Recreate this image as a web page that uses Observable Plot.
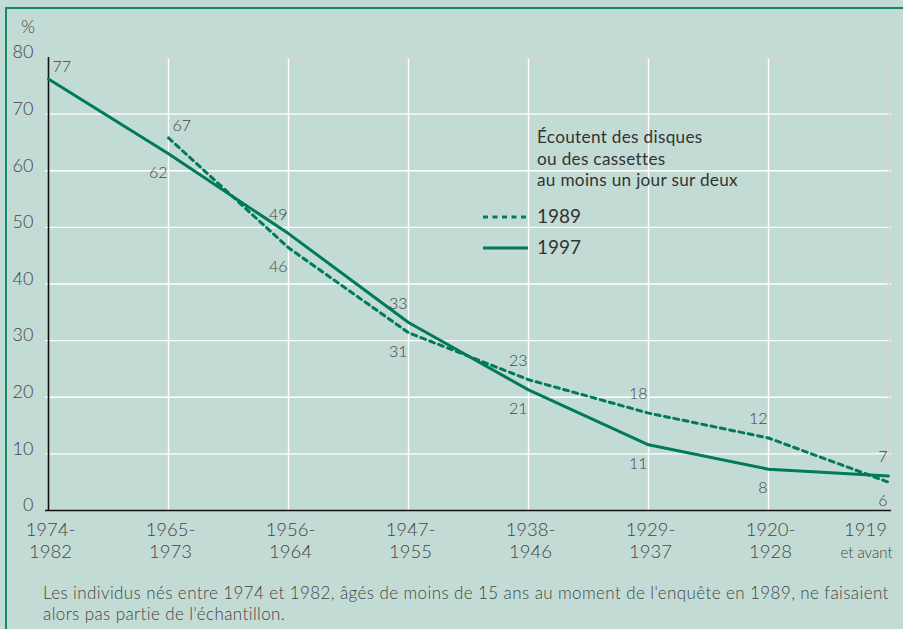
<!DOCTYPE html>
<html>
<head>
<meta charset="utf-8">
<script src="https://cdn.jsdelivr.net/npm/d3@7"></script>
<script src="https://cdn.jsdelivr.net/npm/@observablehq/plot@0.6"></script>
<style>
  html, body { margin: 0; padding: 0; background: #c2dcd5; }
  #frame { position: relative; width: 903px; height: 629px; overflow: hidden; background: #c2dcd5;
           font-family: "Lato", "Open Sans", sans-serif; font-weight: 300; }
  .bt { position: absolute; left: 5px; right: 0; top: 7px; height: 2px; background: #14896a; }
  .bl { position: absolute; left: 5px; top: 7px; bottom: 0; width: 2px; background: #14896a; }
  .abs { position: absolute; white-space: nowrap; }
  #chart svg { overflow: visible; }
</style>
</head>
<body>
<div id="frame">
  <div class="bt"></div>
  <div class="bl"></div>
  <div id="chart" class="abs" style="left:0;top:0"></div>
  <div class="abs" style="left:21px;top:15px;font-size:18px;color:#444">%</div>
  <div class="abs" style="left:537px;top:126px;font-size:17.2px;letter-spacing:0.3px;line-height:21.5px;color:#333;font-weight:400">Écoutent des disques<br>ou des cassettes<br>au moins un jour sur deux</div>
  <svg class="abs" style="left:480px;top:205px" width="50" height="50">
    <line x1="3" x2="48" y1="12" y2="12" stroke="#007a5b" stroke-width="3" stroke-dasharray="5,4.5"/>
    <line x1="3" x2="48" y1="43" y2="43" stroke="#007a5b" stroke-width="3"/>
  </svg>
  <div class="abs" style="left:537px;top:204px;font-size:19px;color:#333;font-weight:400">1989</div>
  <div class="abs" style="left:537px;top:235px;font-size:19px;color:#333;font-weight:400">1997</div>
  <div class="abs" style="left:43px;top:582px;font-size:17px;letter-spacing:0.4px;line-height:21px;color:#444">Les individus nés entre 1974 et 1982, âgés de moins de 15 ans au moment de l'enquête en 1989, ne faisaient<br>alors pas partie de l'échantillon.</div>
</div>
<script>
const categories = ["1974-1982", "1965-1973", "1956-1964", "1947-1955", "1938-1946", "1929-1937", "1920-1928", "1919 et avant"];
const tickLine1 = ["1974-", "1965-", "1956-", "1947-", "1938-", "1929-", "1920-", "1919"];
const tickLine2 = ["1982", "1973", "1964", "1955", "1946", "1937", "1928", "et avant"];
const values1997 = [76.2, 63.0, 48.9, 33.2, 21.3, 11.6, 7.3, 6.1];
const values1989 = [null, 65.8, 46.4, 31.4, 23.1, 17.2, 12.8, 5.0];
const labels1997 = ["77", "62", "49", "33", "21", "11", "8", "7"];
const labels1989 = [null, "67", "46", "31", "23", "18", "12", "6"];
const yTicks = [0, 10, 20, 30, 40, 50, 60, 70, 80];

const green = "#007a5b";
const rows1997 = categories.map((c, i) => ({cat: c, v: values1997[i], t: labels1997[i], other: values1989[i]})).filter(d => d.v != null);
const rows1989 = categories.map((c, i) => ({cat: c, v: values1989[i], t: labels1989[i], other: values1997[i]})).filter(d => d.v != null);

const labelRows = [];
[rows1997, rows1989].forEach(rows => rows.forEach((d, j) => {
  let pos;
  if (j === 0) pos = "first";
  else pos = (d.other == null || d.v >= d.other) ? "above" : "below";
  labelRows.push({...d, pos});
}));

const idx = d3.range(categories.length);
const lastI = categories.length - 1;
const txt = {fill: "#444", fontWeight: 300};

const chart = Plot.plot({
  width: 903,
  height: 570,
  marginLeft: 45,
  marginRight: 12,
  marginTop: 57,
  marginBottom: 60,
  style: {background: "transparent", fontFamily: "Lato, 'Open Sans', sans-serif"},
  x: {type: "point", domain: categories, padding: 0, axis: null},
  y: {domain: [0, 80], axis: null},
  marks: [
    Plot.ruleY(yTicks.filter(d => d > 0 && d < 80), {stroke: "#ffffff", strokeWidth: 1.3}),
    Plot.ruleX(categories.slice(1, lastI), {stroke: "#ffffff", strokeWidth: 1.3}),
    Plot.ruleY([80], {stroke: "#d4d4d4", strokeWidth: 2}),
    Plot.ruleX([categories[lastI]], {stroke: "#d4d4d4", strokeWidth: 2}),
    Plot.ruleX([categories[0]], {stroke: "#111", strokeWidth: 1.6}),
    Plot.ruleY([0], {stroke: "#111", strokeWidth: 1.6}),
    Plot.axisY(yTicks, {tickSize: 0, tickPadding: 12, dy: -5, fontSize: 18, label: null, ...txt}),
    Plot.text(idx.slice(0, lastI), {x: i => categories[i], text: i => tickLine1[i], frameAnchor: "bottom", dy: 25, dx: 2, fontSize: 18.5, ...txt}),
    Plot.text(idx.slice(0, lastI), {x: i => categories[i], text: i => tickLine2[i], frameAnchor: "bottom", dy: 47, dx: 2, fontSize: 18.5, ...txt}),
    Plot.text([lastI], {x: i => categories[i], text: i => tickLine1[i], frameAnchor: "bottom", dy: 25, dx: -23, fontSize: 18.5, ...txt}),
    Plot.text([lastI], {x: i => categories[i], text: i => tickLine2[i], frameAnchor: "bottom", dy: 47, dx: -22, fontSize: 15, ...txt}),
    Plot.line(rows1989, {x: "cat", y: "v", stroke: green, strokeWidth: 3, strokeDasharray: "5,4.5"}),
    Plot.line(rows1997, {x: "cat", y: "v", stroke: green, strokeWidth: 3}),
    Plot.text(labelRows.filter(d => d.pos === "first"), {x: "cat", y: "v", text: "t", textAnchor: "start", dx: 4, dy: -12, fontSize: 16, ...txt}),
    Plot.text(labelRows.filter(d => d.pos === "above"), {x: "cat", y: "v", text: "t", textAnchor: "end", dx: -1, dy: -19, fontSize: 16, ...txt}),
    Plot.text(labelRows.filter(d => d.pos === "below"), {x: "cat", y: "v", text: "t", textAnchor: "end", dx: -1, dy: 19, fontSize: 16, ...txt})
  ]
});
document.getElementById("chart").append(chart);
</script>
</body>
</html>
